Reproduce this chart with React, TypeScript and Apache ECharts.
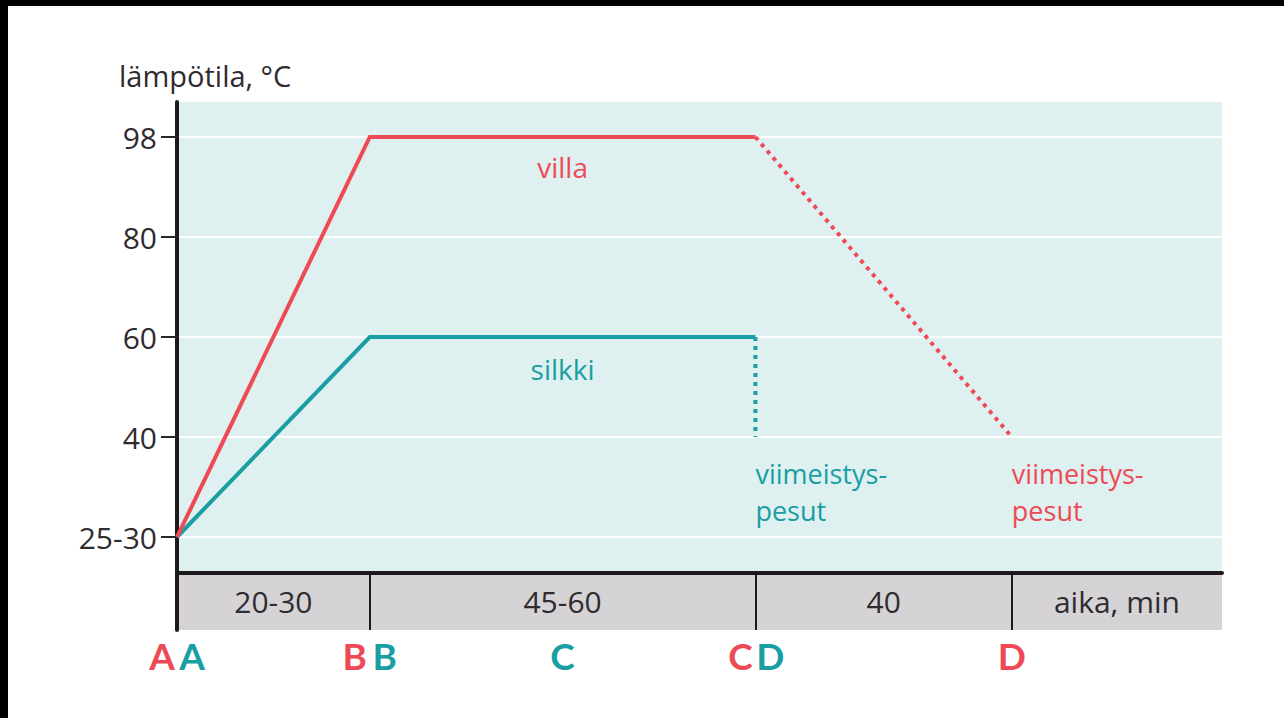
import React, { useEffect, useRef } from "react";
import * as echarts from "echarts";

// ---- data ----
const tempLabels = ["25-30", "40", "60", "80", "98"];
const stageLetters = ["A", "B", "C", "D"];
const villaStageX = [0, 1, 3, 4.33];
const silkkiStageX = [0, 1, 2, 3];
const villaSolid: [number, string][] = [[0, "25-30"], [1, "98"], [3, "98"]];
const villaDotted: [number, string][] = [[3, "98"], [4.33, "40"]];
const silkkiSolid: [number, string][] = [[0, "25-30"], [1, "60"], [3, "60"]];
const silkkiDotted: [number, string][] = [[3, "60"], [3, "40"]];
const segmentBounds = [0, 1, 3, 4.33, 5.42];
const segmentLabels = ["20-30", "45-60", "40", "aika, min"];
const finishLines = ["viimeistys-", "pesut"];
const xMax = 5.42;

const RED = "#ee4a55";
const TEAL = "#189ea3";
const TEXT = "#2f2b2e";
const FONT = "Open Sans";

const yi = (t: string) => tempLabels.indexOf(t);
const toPts = (arr: [number, string][]) => arr.map(([x, t]) => [x, yi(t)]);

export default function App() {
  const ref = useRef<HTMLDivElement>(null);
  useEffect(() => {
    if (!ref.current) return;
    const chart = echarts.init(ref.current, null, { renderer: "svg" });
    const L = 177, R = 62;
    const hiddenX = (g: number) => ({ gridIndex: g, type: "value", min: 0, max: xMax, show: false });
    const hiddenY = (g: number) => ({ gridIndex: g, type: "value", min: 0, max: 1, show: false });
    const clear = { color: "rgba(0,0,0,0)", opacity: 1 };

    const letterData = (xs: number[], other: number[], sign: number) =>
      xs.map((x, i) => ({
        value: [x, 0.5],
        label: { formatter: stageLetters[i], offset: [other.includes(x) ? sign * 15 : 0, 0] },
      }));

    const mids = segmentLabels.map((s, i) => ({
      value: [(segmentBounds[i] + segmentBounds[i + 1]) / 2, 0.5],
      label: { formatter: s },
    }));

    const textPoint = (x: number, y: number, txt: string, color: string, align: string, size = 28) => ({
      type: "scatter",
      xAxisIndex: 1,
      yAxisIndex: 1,
      symbolSize: 1,
      itemStyle: clear,
      silent: true,
      data: [[x, y]],
      label: {
        show: true,
        position: "inside",
        formatter: txt,
        color,
        opacity: 1,
        fontFamily: FONT,
        fontSize: size,
        lineHeight: size + 1,
        align,
        verticalAlign: "middle",
      },
    });

    chart.setOption({
      animation: false,
      backgroundColor: "#ffffff",
      title: {
        text: "lämpötila, °C",
        left: 114,
        top: 56,
        textStyle: { fontFamily: FONT, fontSize: 29, fontWeight: "normal", color: TEXT },
      },
      graphic: [
        { type: "rect", shape: { x: 0, y: 0, width: 1284, height: 6 }, style: { fill: "#000" } },
        { type: "rect", shape: { x: 0, y: 0, width: 8, height: 718 }, style: { fill: "#000" } },
      ],
      grid: [
        { left: L, right: R, top: 102, height: 471, show: true, backgroundColor: "#def0f0", borderWidth: 0 },
        { left: L, right: R, top: 137, height: 400 },
        { left: L, right: R, top: 573, height: 57, show: true, backgroundColor: "#d5d3d6", borderWidth: 0 },
        { left: L, right: R, top: 638, height: 34 },
      ],
      xAxis: [
        hiddenX(0),
        hiddenX(1),
        {
          gridIndex: 2, type: "value", min: 0, max: xMax, position: "top",
          axisLine: { show: true, onZero: false, lineStyle: { color: "#1e1a1c", width: 4 } },
          axisTick: { show: false }, axisLabel: { show: false }, splitLine: { show: false },
        },
        hiddenX(3),
      ],
      yAxis: [
        {
          gridIndex: 0, type: "value", min: 0, max: 1,
          axisLine: { show: true, onZero: false, lineStyle: { color: "#1e1a1c", width: 4 } },
          axisTick: { show: false }, axisLabel: { show: false }, splitLine: { show: false },
        },
        {
          gridIndex: 1, type: "value", min: 0, max: 4, interval: 1,
          axisLine: { show: false },
          axisTick: { show: true, length: 16, lineStyle: { color: "#2a2628", width: 2 } },
          axisLabel: {
            margin: 20, fontFamily: FONT, fontSize: 30, color: TEXT,
            formatter: (v: number) => tempLabels[Math.round(v)] ?? "",
          },
          splitLine: { show: true, lineStyle: { color: "#ffffff", width: 2 } },
        },
        {
          gridIndex: 2, type: "value", min: 0, max: 1,
          axisLine: { show: true, onZero: false, lineStyle: { color: "#1e1a1c", width: 4 } },
          axisTick: { show: false }, axisLabel: { show: false }, splitLine: { show: false },
        },
        hiddenY(3),
      ],
      series: [
        {
          type: "line", xAxisIndex: 1, yAxisIndex: 1, symbol: "none", silent: true,
          data: toPts(silkkiSolid),
          lineStyle: { color: TEAL, width: 4, join: "miter" },
        },
        {
          type: "line", xAxisIndex: 1, yAxisIndex: 1, symbol: "none", silent: true,
          data: toPts(silkkiDotted),
          lineStyle: { color: TEAL, width: 4, type: [4, 5] },
        },
        {
          type: "line", xAxisIndex: 1, yAxisIndex: 1, symbol: "none", silent: true,
          data: toPts(villaSolid),
          lineStyle: { color: RED, width: 4, join: "miter" },
        },
        {
          type: "line", xAxisIndex: 1, yAxisIndex: 1, symbol: "none", silent: true,
          data: toPts(villaDotted),
          lineStyle: { color: RED, width: 4, type: [4, 5] },
        },
        textPoint(2, 3.7, "villa", RED, "center"),
        textPoint(2, 1.68, "silkki", TEAL, "center"),
        textPoint(3, 0.64, finishLines[0], TEAL, "left", 27),
        textPoint(3, 0.27, finishLines[1], TEAL, "left", 27),
        textPoint(4.33, 0.64, finishLines[0], RED, "left", 27),
        textPoint(4.33, 0.27, finishLines[1], RED, "left", 27),
        // time band
        {
          type: "scatter", xAxisIndex: 2, yAxisIndex: 2, symbolSize: 1, silent: true,
          itemStyle: clear,
          data: mids,
          label: { show: true, position: "inside", fontFamily: FONT, fontSize: 30, color: TEXT, opacity: 1 },
          markLine: {
            silent: true, symbol: "none", label: { show: false },
            lineStyle: { color: "#1e1a1c", width: 2, type: "solid" },
            data: segmentBounds.slice(1, -1).map((x) => ({ xAxis: x })),
          },
        },
        // stage letters
        {
          type: "scatter", xAxisIndex: 3, yAxisIndex: 3, symbolSize: 1, silent: true,
          itemStyle: clear,
          data: letterData(villaStageX, silkkiStageX, -1),
          label: { show: true, position: "inside", fontFamily: "Lato", fontWeight: "bold", fontSize: 37, color: RED, opacity: 1 },
        },
        {
          type: "scatter", xAxisIndex: 3, yAxisIndex: 3, symbolSize: 1, silent: true,
          itemStyle: clear,
          data: letterData(silkkiStageX, villaStageX, 1),
          label: { show: true, position: "inside", fontFamily: "Lato", fontWeight: "bold", fontSize: 37, color: TEAL, opacity: 1 },
        },
      ],
    });
    return () => chart.dispose();
  }, []);
  return (
    <div
      ref={ref}
      style={{ position: "fixed", left: 0, top: 0, width: 1284, height: 718, background: "#fff" }}
    />
  );
}
